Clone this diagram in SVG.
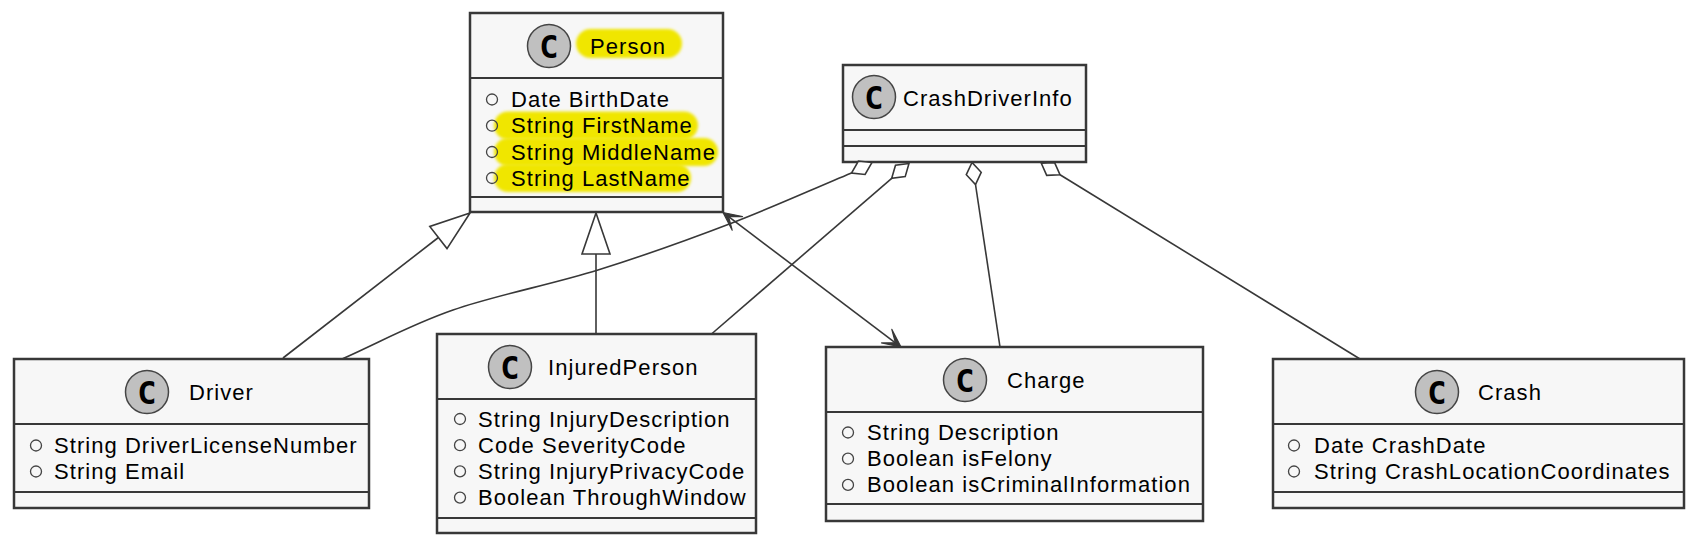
<svg xmlns="http://www.w3.org/2000/svg" width="1698" height="546" viewBox="0 0 1698 546">
<defs>
<style>
.box{fill:#F7F7F7;stroke:#383838;stroke-width:2.5}
.dv{stroke:#383838;stroke-width:2.2}
.ic{fill:#C0C0C0;stroke:#454545;stroke-width:1.5}
.icl{font-family:"DejaVu Sans Mono",monospace;font-weight:bold;font-size:32px;fill:#000;text-anchor:middle}
.t{font-family:"Liberation Sans",Arial,sans-serif;font-size:22px;letter-spacing:1.05px;fill:#000}
.m{fill:none;stroke:#444;stroke-width:1.3}
.hl{fill:#F0E600;filter:url(#soft)}
.ln{fill:none;stroke:#383838;stroke-width:1.6}
.hollow{fill:#FFFFFF;stroke:#383838;stroke-width:1.6}
.head{fill:#383838;stroke:#383838;stroke-width:1.2;stroke-linejoin:round}
</style>
<filter id="soft" x="-10%" y="-30%" width="120%" height="160%"><feGaussianBlur stdDeviation="1.8"/></filter>
</defs>
<rect width="1698" height="546" fill="#FFFFFF"/>

<g id="Person">
<rect class="box" x="470" y="13" width="253" height="199"/>
<line class="dv" x1="470" y1="78" x2="723" y2="78"/>
<line class="dv" x1="470" y1="197" x2="723" y2="197"/>
<circle class="ic" cx="549" cy="46" r="21.5"/>
<text class="icl" x="549" y="57.5">C</text>
<rect class="hl" x="576" y="29" width="106" height="29" rx="14.5"/>
<text class="t" x="590" y="54">Person</text>
<rect class="hl" x="494" y="111.5" width="204" height="28" rx="14"/>
<rect class="hl" x="494" y="138" width="224" height="28" rx="14"/>
<rect class="hl" x="494" y="164" width="197" height="28" rx="14"/>
<circle class="m" cx="492" cy="99.5" r="5.5"/>
<circle class="m" cx="492" cy="125.7" r="5.5"/>
<circle class="m" cx="492" cy="152" r="5.5"/>
<circle class="m" cx="492" cy="178" r="5.5"/>
<text class="t" x="511" y="107">Date BirthDate</text>
<text class="t" x="511" y="133.2">String FirstName</text>
<text class="t" x="511" y="159.5">String MiddleName</text>
<text class="t" x="511" y="185.5">String LastName</text>
</g>

<g id="CrashDriverInfo">
<rect class="box" x="843" y="65" width="243" height="97"/>
<line class="dv" x1="843" y1="130" x2="1086" y2="130"/>
<line class="dv" x1="843" y1="146" x2="1086" y2="146"/>
<circle class="ic" cx="874" cy="97" r="21.5"/>
<text class="icl" x="874" y="108.5">C</text>
<text class="t" x="903" y="106">CrashDriverInfo</text>
</g>

<g id="Driver">
<rect class="box" x="14" y="359" width="355" height="149"/>
<line class="dv" x1="14" y1="424" x2="369" y2="424"/>
<line class="dv" x1="14" y1="492" x2="369" y2="492"/>
<circle class="ic" cx="147" cy="392" r="21.5"/>
<text class="icl" x="147" y="403.5">C</text>
<text class="t" x="189" y="400">Driver</text>
<circle class="m" cx="36" cy="445.5" r="5.5"/>
<circle class="m" cx="36" cy="471.5" r="5.5"/>
<text class="t" x="54" y="453">String DriverLicenseNumber</text>
<text class="t" x="54" y="479">String Email</text>
</g>

<g id="InjuredPerson">
<rect class="box" x="437" y="334" width="319" height="199"/>
<line class="dv" x1="437" y1="399" x2="756" y2="399"/>
<line class="dv" x1="437" y1="518" x2="756" y2="518"/>
<circle class="ic" cx="510" cy="367" r="21.5"/>
<text class="icl" x="510" y="378.5">C</text>
<text class="t" x="548" y="375">InjuredPerson</text>
<circle class="m" cx="460" cy="419" r="5.5"/>
<circle class="m" cx="460" cy="445.2" r="5.5"/>
<circle class="m" cx="460" cy="471.4" r="5.5"/>
<circle class="m" cx="460" cy="497.6" r="5.5"/>
<text class="t" x="478" y="426.5">String InjuryDescription</text>
<text class="t" x="478" y="452.7">Code SeverityCode</text>
<text class="t" x="478" y="478.9">String InjuryPrivacyCode</text>
<text class="t" x="478" y="505.1">Boolean ThroughWindow</text>
</g>

<g id="Charge">
<rect class="box" x="826" y="347" width="377" height="174"/>
<line class="dv" x1="826" y1="412" x2="1203" y2="412"/>
<line class="dv" x1="826" y1="504" x2="1203" y2="504"/>
<circle class="ic" cx="965" cy="380" r="21.5"/>
<text class="icl" x="965" y="391.5">C</text>
<text class="t" x="1007" y="388">Charge</text>
<circle class="m" cx="848" cy="432.5" r="5.5"/>
<circle class="m" cx="848" cy="458.7" r="5.5"/>
<circle class="m" cx="848" cy="484.9" r="5.5"/>
<text class="t" x="867" y="440">String Description</text>
<text class="t" x="867" y="466.2">Boolean isFelony</text>
<text class="t" x="867" y="492.4">Boolean isCriminalInformation</text>
</g>

<g id="Crash">
<rect class="box" x="1273" y="359" width="411" height="149"/>
<line class="dv" x1="1273" y1="424" x2="1684" y2="424"/>
<line class="dv" x1="1273" y1="492" x2="1684" y2="492"/>
<circle class="ic" cx="1437" cy="392" r="21.5"/>
<text class="icl" x="1437" y="403.5">C</text>
<text class="t" x="1478" y="400">Crash</text>
<circle class="m" cx="1294" cy="445.5" r="5.5"/>
<circle class="m" cx="1294" cy="471.5" r="5.5"/>
<text class="t" x="1314" y="453">Date CrashDate</text>
<text class="t" x="1314" y="479">String CrashLocationCoordinates</text>
</g>

<g id="connectors">
<line class="ln" x1="283" y1="358" x2="438.4" y2="237.5"/>
<polygon class="hollow" points="470,213 447,248.6 429.8,226.4"/>
<line class="ln" x1="596" y1="334" x2="596" y2="254"/>
<polygon class="hollow" points="596,213 582,254 610,254"/>
<line class="ln" x1="728.6" y1="216.7" x2="895.4" y2="342.8"/>
<polygon class="head" points="723,212.5 732.2,230.1 728.6,216.7 742.5,216.6"/>
<polygon class="head" points="901,347 881.5,342.9 895.4,342.8 891.8,329.4"/>
<path class="ln" d="M342,359 C379,342.7 410.3,324.8 453,310 C495.7,295.2 551.5,284.5 598,270 C644.5,255.5 689.8,239.2 732,223 C774.2,206.8 811.3,189.7 851.5,173"/>
<polygon class="hollow" points="872,162.5 858.4,161.1 851.5,173 865.1,174.5"/>
<line class="ln" x1="891.7" y1="178.3" x2="711.5" y2="334"/>
<polygon class="hollow" points="909,163.5 895.5,165.2 891.7,178.3 905.2,176.6"/>
<line class="ln" x1="975.5" y1="184.5" x2="1000" y2="347"/>
<polygon class="hollow" points="972,162.5 966.3,174.7 975.5,184.5 981.2,172.3"/>
<line class="ln" x1="1060" y1="174.8" x2="1360" y2="359"/>
<polygon class="hollow" points="1041.3,163.2 1046.7,175.4 1060,174.8 1054.6,162.6"/>
</g>
</svg>
